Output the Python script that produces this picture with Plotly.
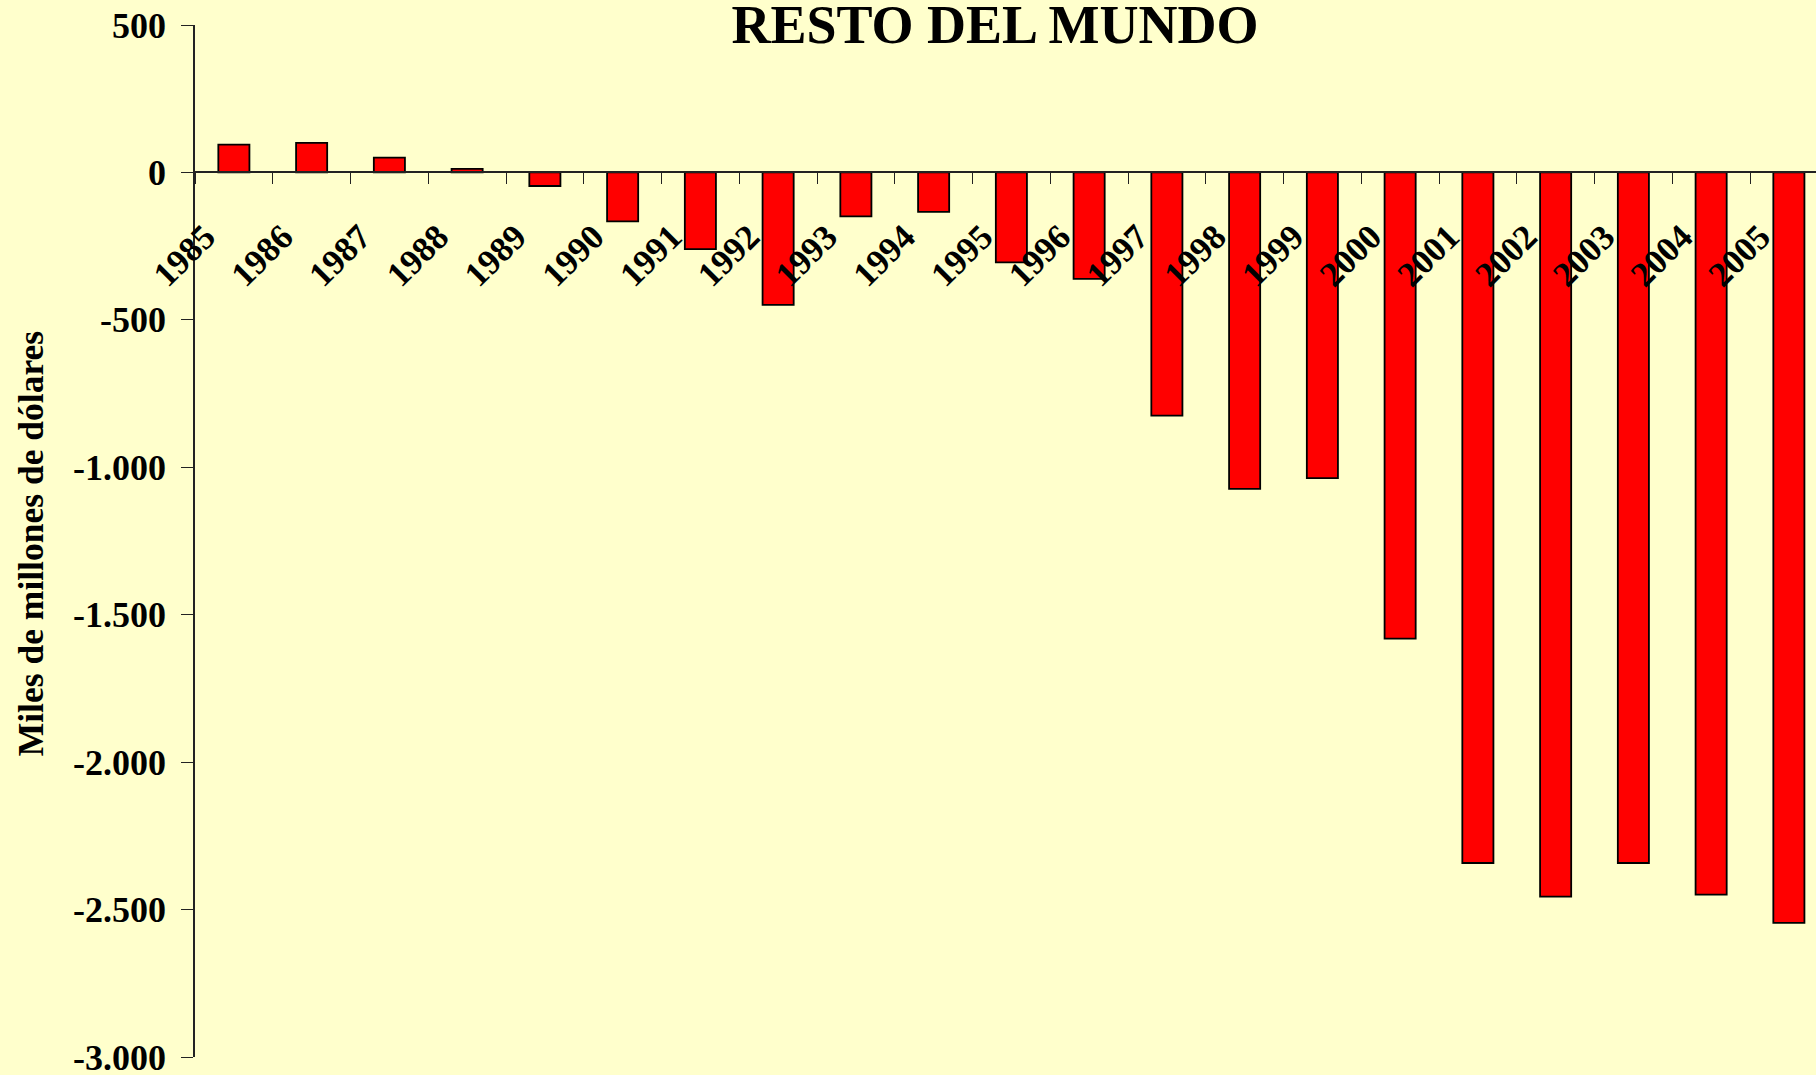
import plotly.graph_objects as go

years = [str(y) for y in range(1985, 2006)]
values = [94, 100, 50, 12, -46, -166, -260, -449, -149, -134, -305, -361,
          -825, -1073, -1037, -1581, -2342, -2456, -2342, -2449, -2545]
y_tickvals = [500, 0, -500, -1000, -1500, -2000, -2500, -3000]
y_ticktext = ["500", "0", "-500", "-1.000", "-1.500", "-2.000", "-2.500", "-3.000"]

FONT = "Liberation Serif"
BG = "#FFFFCC"

L, T, B_PLOT = 195, 24.5, 1057
W, H = 1816, 1075
CAT = 77.75

x_pos = [i + 0.5 for i in range(len(years))]

fig = go.Figure()
fig.add_trace(go.Bar(
    x=x_pos, y=values, width=0.4,
    marker=dict(color="#FF0000", line=dict(color="#000000", width=1.8)),
    hoverinfo="x+y",
))

ymin, ymax = -3000, 500
fig.update_layout(
    width=W, height=H,
    paper_bgcolor=BG, plot_bgcolor=BG,
    margin=dict(l=L, r=0, t=T, b=H - B_PLOT, autoexpand=False),
    showlegend=False,
    title=dict(text="<b>RESTO DEL MUNDO</b>", xref="container", yref="container",
               x=995 / W, y=1 - 5 / H, xanchor="center", yanchor="top",
               pad=dict(t=0, b=0, l=0, r=0),
               font=dict(family=FONT, size=54, color="black")),
    xaxis=dict(
        range=[0, (W - L) / CAT], showgrid=False, zeroline=False,
        anchor="free", position=(0 - ymin) / (ymax - ymin),
        showline=True, linecolor="#222222", linewidth=1.5,
        ticks="outside", ticklen=11, tickwidth=1.3, tickcolor="#222222",
        tickvals=list(range(len(years))), ticktext=years,
        tickangle=-45,
        tickfont=dict(family=FONT, size=35, color="black", weight="bold"),
        ticklabelshift=10, ticklabelstandoff=18,
        automargin=False,
    ),
    yaxis=dict(
        range=[ymin, ymax], showgrid=False, zeroline=False,
        showline=True, linecolor="#222222", linewidth=1.5,
        ticks="outside", ticklen=12, tickwidth=1.3, tickcolor="#222222",
        tickvals=y_tickvals, ticktext=y_ticktext,
        tickfont=dict(family=FONT, size=36, color="black", weight="bold"),
        ticklabelstandoff=8, ticklabeloverflow="allow",
        automargin=False,
    ),
    annotations=[dict(
        text="<b>Miles de millones de dólares</b>", textangle=-90,
        xref="paper", yref="paper", x=(31 - L) / (W - L), y=(B_PLOT - 544) / (B_PLOT - T),
        xanchor="center", yanchor="middle", showarrow=False,
        font=dict(family=FONT, size=35.5, color="black"),
    )],
)

fig.write_html("out.html", config={"displayModeBar": False},
               post_script="document.body.style.margin='0';")
